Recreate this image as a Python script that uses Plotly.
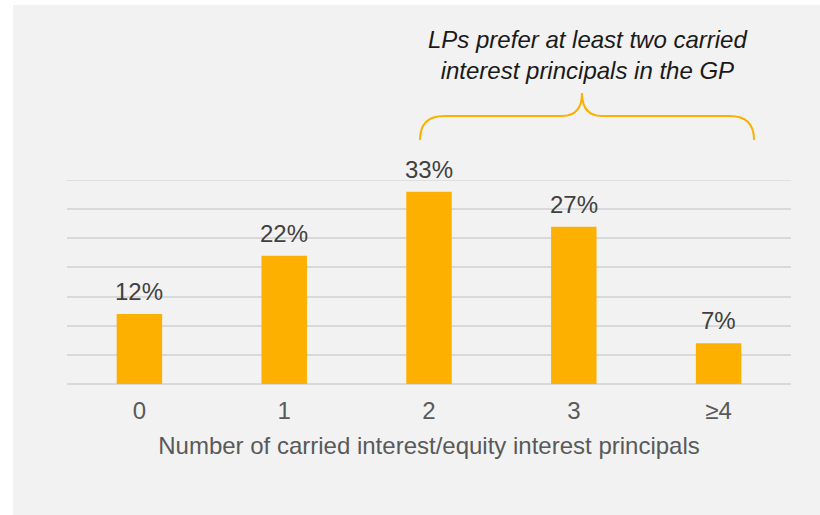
import plotly.graph_objects as go

categories = ["0", "1", "2", "3", "≥4"]
shares = [12, 22, 33, 27, 7]
share_labels = ["12%", "22%", "33%", "27%", "7%"]
axis_title = "Number of carried interest/equity interest principals"
callout = "<i>LPs prefer at least two carried<br>interest principals in the GP</i>"
y_max = 35

W, H = 820, 515
L, R, T, B = 67, 29, 180, 131
PW, PH = W - L - R, H - T - B

BAR = "#FDB000"
PANEL = "#F2F2F2"
GRID = "#D9D9D9"
FONT = "Arial, Liberation Sans, sans-serif"


def px(x):
    return (x - L) / PW


def py(y):
    return (H - B - y) / PH


fig = go.Figure()
fig.add_trace(go.Bar(x=categories, y=shares, marker=dict(color=BAR, line=dict(width=0)),
                     hoverinfo="skip"))

# value labels above each bar
for c, v, t in zip(categories, shares, share_labels):
    fig.add_annotation(x=c, y=v, text=t, showarrow=False, yanchor="bottom", yshift=7,
                       font=dict(family=FONT, size=24, color="#404040"))

# callout text and brace over categories 2..4
fig.add_annotation(xref="paper", yref="paper", x=px(587), y=py(55), text=callout,
                   showarrow=False, xanchor="center", yanchor="middle",
                   font=dict(family=FONT, size=24, color="#1A1A1A"))


def pt(x, y):
    return f"{px(x):.5f},{py(y):.5f}"


brace = (f"M {pt(420,140)} Q {pt(420,116)} {pt(444,116)} L {pt(562,116)} "
         f"Q {pt(582,116)} {pt(582,93)} Q {pt(582,116)} {pt(602,116)} "
         f"L {pt(730,116)} Q {pt(754,116)} {pt(754,140)}")
fig.add_shape(type="path", xref="paper", yref="paper", path=brace,
              line=dict(color=BAR, width=2))

# top gridline at the edge of the value range
fig.add_shape(type="line", xref="paper", yref="y", x0=0, x1=1, y0=y_max, y1=y_max,
              line=dict(color=GRID, width=1.5), layer="below")

# white border strips around the grey panel
fig.add_shape(type="rect", xref="paper", yref="paper", x0=px(-5), x1=px(13), y0=py(H + 5), y1=py(-5),
              fillcolor="white", line=dict(width=0))
fig.add_shape(type="rect", xref="paper", yref="paper", x0=px(-5), x1=px(W + 5), y0=py(5), y1=py(-5),
              fillcolor="white", line=dict(width=0))

fig.update_layout(
    width=W, height=H,
    margin=dict(l=L, r=R, t=T, b=B),
    paper_bgcolor=PANEL, plot_bgcolor=PANEL,
    bargap=0.686, showlegend=False,
    font=dict(family=FONT, size=24, color="#595959"),
)
fig.update_xaxes(type="category", showline=False, ticks="", showgrid=False,
                 tickfont=dict(size=24, color="#595959"), ticklabelstandoff=10,
                 title=dict(text=axis_title, font=dict(size=24, color="#595959"), standoff=14))
fig.update_yaxes(range=[0, y_max], dtick=5, showticklabels=False, showgrid=True,
                 gridcolor=GRID, gridwidth=1.5, zeroline=True, zerolinecolor=GRID,
                 zerolinewidth=1.5, showline=False, fixedrange=True)

fig.write_html("out.html")
